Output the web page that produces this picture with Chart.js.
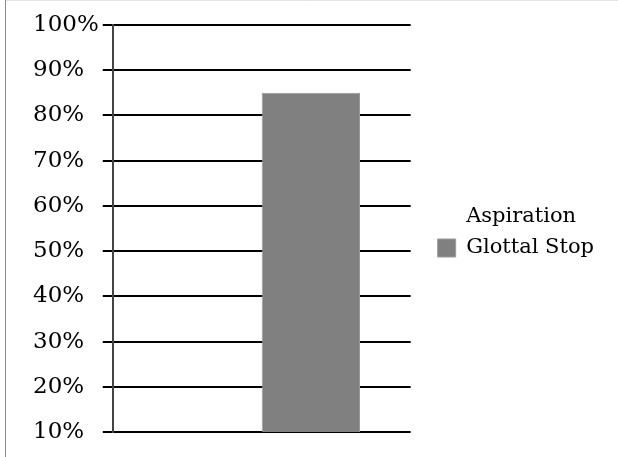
<!DOCTYPE html>
<html>
<head>
<meta charset="utf-8">
<script src="https://cdn.jsdelivr.net/npm/chart.js@4"></script>
<style>
  html, body { margin: 0; padding: 0; background: #fff; }
  #wrap { width: 618px; height: 457px; position: relative; }
</style>
</head>
<body>
<div id="wrap"><canvas id="barChart"></canvas></div>
<script>
// data
const categories = [''];
const aspiration = [0];
const glottalStop = [85];
const yTicks = [10, 20, 30, 40, 50, 60, 70, 80, 90, 100];

// light frame round the figure
const framePlugin = {
    id: 'frame',
    beforeDraw(chart) {
        const ctx = chart.ctx;
        ctx.save();
        ctx.fillStyle = '#fff';
        ctx.fillRect(0, 0, chart.width, chart.height);
        ctx.strokeStyle = '#e4e4e4';
        ctx.lineWidth = 1;
        ctx.beginPath();
        ctx.moveTo(5, 0.5);
        ctx.lineTo(chart.width, 0.5);
        ctx.stroke();
        ctx.strokeStyle = '#8c8c8c';
        ctx.beginPath();
        ctx.moveTo(5.5, 0);
        ctx.lineTo(5.5, chart.height);
        ctx.stroke();
        ctx.restore();
    }
};

const ctx = document.getElementById('barChart').getContext('2d');
const barChart = new Chart(ctx, {
    type: 'bar',
    data: {
        labels: categories,
        datasets: [{
            label: 'Aspiration',
            data: aspiration,
            backgroundColor: 'rgba(0,0,0,0)',
            borderWidth: 0
        }, {
            label: 'Glottal Stop',
            data: glottalStop,
            backgroundColor: '#808080',
            borderColor: '#9a9a9a',
            borderWidth: 1
        }]
    },
    options: {
        responsive: true,
        maintainAspectRatio: false,
        animation: false,
        layout: {
            padding: { left: 33, right: 14, top: 25, bottom: 17 }
        },
        datasets: {
            bar: { categoryPercentage: 0.66, barPercentage: 1.0 }
        },
        scales: {
            x: {
                ticks: { display: false },
                grid: { display: false },
                border: { display: false }
            },
            y: {
                min: 10,
                max: 100,
                afterBuildTicks: axis => { axis.ticks = yTicks.map(v => ({ value: v })); },
                ticks: {
                    padding: 2,
                    crossAlign: 'far',
                    color: '#000',
                    font: { family: 'DejaVu Serif', size: 23 },
                    callback: v => v + '%'
                },
                grid: { color: '#000', lineWidth: 2, tickLength: 10, drawTicks: true },
                border: { color: '#444', width: 2 }
            },
            // empty axis, only keeps a gap between plot and legend
            gap: {
                position: 'right',
                min: 0,
                max: 1,
                ticks: { display: false },
                grid: { display: false },
                border: { display: false },
                afterFit: s => { s.width = 17; }
            }
        },
        plugins: {
            legend: {
                position: 'right',
                maxWidth: 300,
                labels: {
                    boxWidth: 18,
                    boxHeight: 18,
                    color: '#000',
                    font: { family: 'DejaVu Serif', size: 21 }
                }
            },
            tooltip: { enabled: false }
        }
    },
    plugins: [framePlugin]
});
</script>
</body>
</html>
